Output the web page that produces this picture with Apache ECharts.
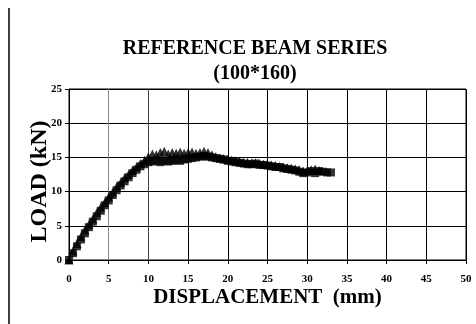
<!DOCTYPE html>
<html>
<head>
<meta charset="utf-8">
<script src="https://cdn.jsdelivr.net/npm/echarts@6/dist/echarts.min.js"></script>
<style>
  html, body { margin: 0; padding: 0; background: #fff; }
  #chart { width: 476px; height: 324px; }
</style>
</head>
<body>
<div id="chart"></div>
<script>
// displacement (mm) / load (kN)
const sqDisp = [0, 0.5, 1, 1.5, 2, 2.5, 3, 3.5, 4, 4.5, 5, 5.5, 6, 6.5, 7, 7.5, 8, 8.5, 9, 9.5,
  10, 10.5, 11, 11.5, 12, 12.5, 13, 13.5, 14, 14.5, 15, 15.5, 16, 16.5, 17, 17.5, 18, 18.5, 19, 19.5,
  20, 20.5, 21, 21.5, 22, 22.5, 23, 23.5, 24, 24.5, 25, 25.5, 26, 26.5, 27, 27.5, 28, 28.5, 29, 29.5,
  30, 30.5, 31, 31.5, 32, 32.5, 33]
const sqLoad = [0, 1.0, 2.0, 3.0, 3.9, 4.8, 5.6, 6.4, 7.2, 8.0, 8.7, 9.5, 10.2, 10.9, 11.5, 12.1, 12.7, 13.2, 13.7, 14.0,
  14.3, 14.4, 14.5, 14.3, 14.5, 14.4, 14.5, 14.6, 14.5, 14.7, 14.8, 14.9, 15.0, 15.1, 15.2, 15.1, 15.0, 14.9, 14.8, 14.7,
  14.5, 14.4, 14.3, 14.2, 14.1, 14.0, 14.0, 14.1, 13.9, 13.9, 13.8, 13.7, 13.6, 13.6, 13.4, 13.3, 13.2, 13.1, 12.9, 12.7,
  12.8, 13.0, 12.7, 13.0, 12.9, 12.8, 12.8]

const triDisp = [0, 0.5, 1, 1.5, 2, 2.5, 3, 3.5, 4, 4.5, 5, 5.5, 6, 6.5, 7, 7.5, 8, 8.5, 9, 9.5,
  10, 10.5, 11, 11.5, 12, 12.5, 13, 13.5, 14, 14.5, 15, 15.5, 16, 16.5, 17, 17.5, 18, 18.5, 19, 19.5,
  20, 20.5, 21, 21.5, 22, 22.5, 23, 23.5, 24, 24.5, 25, 25.5, 26, 26.5, 27, 27.5, 28, 28.5, 29, 29.5,
  30, 30.5, 31, 31.5]
const triLoad = [0, 1.3, 2.4, 3.4, 4.4, 5.2, 6.0, 6.9, 7.7, 8.4, 9.2, 9.9, 10.7, 11.3, 12.0, 12.5, 13.1, 13.6, 14.1, 14.6,
  15.1, 15.5, 15.4, 15.7, 15.9, 15.5, 15.7, 15.6, 15.8, 15.6, 15.7, 15.8, 15.6, 15.7, 15.9, 15.7, 15.4, 15.1, 14.9, 14.8,
  14.7, 14.6, 14.5, 14.4, 14.3, 14.3, 14.2, 14.2, 14.1, 14.0, 14.0, 13.9, 13.8, 13.7, 13.6, 13.5, 13.4, 13.3, 13.2, 13.0,
  13.1, 13.2, 13.3, 13.1]

const titleText = 'REFERENCE BEAM SERIES'
const subText = '(100*160)'
const xName = 'DISPLACEMENT  (mm)'
const yName = 'LOAD (kN)'

const serif = '"Liberation Serif", "Times New Roman", serif'

function pairs(xs, ys) {
  return xs.map((x, i) => [x, ys[i]])
}

let chart = echarts.init(document.getElementById('chart'), null, { renderer: 'canvas' })
let option = {
  animation: false,
  backgroundColor: '#fff',
  title: [
    {
      text: titleText,
      left: 250, top: 34, textAlign: 'center',
      textStyle: { fontFamily: serif, fontWeight: 'bold', fontSize: 20, color: '#000' }
    },
    {
      text: subText,
      left: 250, top: 59, textAlign: 'center',
      textStyle: { fontFamily: serif, fontWeight: 'bold', fontSize: 20, color: '#000' }
    }
  ],
  graphic: [
    { type: 'line', shape: { x1: 9, y1: 8, x2: 9, y2: 324 }, style: { stroke: '#000', lineWidth: 1.5 } }
  ],
  grid: {
    left: 69, right: 10, top: 89, bottom: 64,
    show: true, borderColor: '#000', borderWidth: 1
  },
  xAxis: {
    type: 'value', min: 0, max: 50, interval: 5,
    name: xName, nameLocation: 'middle', nameGap: 27, nameMoveOverlap: false,
    nameTextStyle: { fontFamily: serif, fontWeight: 'bold', fontSize: 21, color: '#000' },
    axisLine: { lineStyle: { color: '#000', width: 1 } },
    axisTick: { show: true, length: 4, lineStyle: { color: '#000' } },
    axisLabel: { fontFamily: serif, fontWeight: 'bold', fontSize: 11, color: '#000', margin: 14 },
    splitLine: { show: true, lineStyle: { color: ['#000', '#888', '#444', '#000', '#000', '#000', '#000', '#000', '#000', '#000', '#000'], width: 1 } }
  },
  yAxis: {
    type: 'value', min: 0, max: 25, interval: 5,
    name: yName, nameLocation: 'middle', nameGap: 17, nameMoveOverlap: false,
    nameTextStyle: { fontFamily: serif, fontWeight: 'bold', fontSize: 24, color: '#000', padding: [0, 14, 0, 0] },
    axisLine: { lineStyle: { color: '#000', width: 1 } },
    axisTick: { show: true, length: 4, lineStyle: { color: '#000' } },
    axisLabel: { fontFamily: serif, fontWeight: 'bold', fontSize: 11, color: '#000', margin: 7 },
    splitLine: { show: true, lineStyle: { color: '#000', width: 1 } }
  },
  series: [
    {
      name: 'squares', type: 'scatter', symbol: 'rect', symbolSize: 8,
      itemStyle: { color: '#000' },
      data: pairs(sqDisp, sqLoad)
    },
    {
      name: 'triangles', type: 'scatter', symbol: 'triangle', symbolSize: 9,
      itemStyle: { color: '#000' },
      data: pairs(triDisp, triLoad)
    }
  ]
}

chart.setOption(option)
</script>
</body>
</html>
